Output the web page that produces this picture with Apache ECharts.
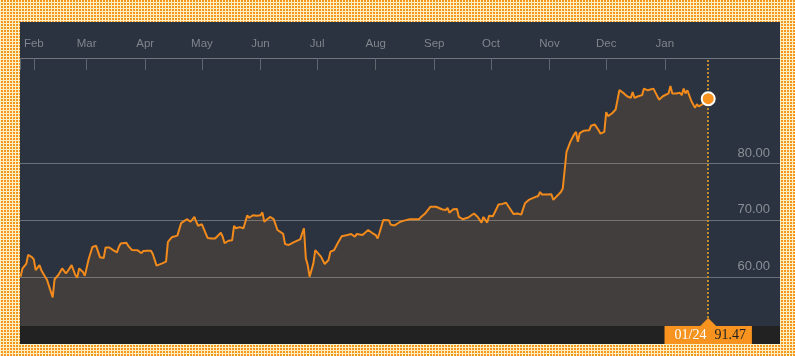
<!DOCTYPE html>
<html>
<head>
<meta charset="utf-8">
<script src="https://cdn.jsdelivr.net/npm/echarts@6/dist/echarts.min.js"></script>
<style>
  html, body { margin: 0; padding: 0; }
  body {
    width: 795px; height: 356px; overflow: hidden; position: relative;
    background-color: #f7961c;
    background-image:
      linear-gradient(90deg, #fff0c4 1px, transparent 1px),
      linear-gradient(0deg, #fff0c4 1px, transparent 1px);
    background-size: 3px 3px;
  }
  #panel { position: absolute; left: 20px; top: 22px; width: 760px; height: 322px; background: #2a333f; }
  #bar { position: absolute; left: 0; bottom: 0; width: 760px; height: 18px; background: #222222; }
  #chart { position: absolute; left: 0; top: 0; width: 760px; height: 322px; }
</style>
</head>
<body>
<div id="panel"><div id="bar"></div><div id="chart"></div></div>
<script>
// ---- data ----
const dates = [
'2017-01-25','2017-01-26','2017-01-28','2017-01-29','2017-01-31',
'2017-02-01','2017-02-02','2017-02-03','2017-02-04','2017-02-05','2017-02-07','2017-02-08','2017-02-09','2017-02-11','2017-02-12','2017-02-14','2017-02-16','2017-02-18','2017-02-19','2017-02-21','2017-02-23','2017-02-24','2017-02-25','2017-02-27','2017-02-28',
'2017-03-02','2017-03-04','2017-03-06','2017-03-07','2017-03-08','2017-03-10','2017-03-11','2017-03-13','2017-03-15','2017-03-17','2017-03-18','2017-03-19','2017-03-22','2017-03-23','2017-03-25','2017-03-28','2017-03-30','2017-03-31',
'2017-04-01','2017-04-02','2017-04-04','2017-04-05','2017-04-06','2017-04-07','2017-04-10','2017-04-12','2017-04-13','2017-04-15','2017-04-16','2017-04-18','2017-04-20','2017-04-21','2017-04-23','2017-04-25','2017-04-27','2017-04-28','2017-04-29',
'2017-05-01','2017-05-02','2017-05-04','2017-05-06','2017-05-08','2017-05-09','2017-05-11','2017-05-12','2017-05-13','2017-05-15','2017-05-17','2017-05-18','2017-05-19','2017-05-21','2017-05-23','2017-05-25','2017-05-26','2017-05-28','2017-05-30',
'2017-06-01','2017-06-02','2017-06-03','2017-06-06','2017-06-08','2017-06-10','2017-06-13','2017-06-14','2017-06-16','2017-06-19','2017-06-22','2017-06-23','2017-06-24','2017-06-25','2017-06-26','2017-06-27','2017-06-29','2017-06-30',
'2017-07-03','2017-07-05','2017-07-07','2017-07-08','2017-07-10','2017-07-12','2017-07-13','2017-07-14','2017-07-17','2017-07-19','2017-07-21','2017-07-22','2017-07-25','2017-07-28','2017-07-30',
'2017-08-01','2017-08-02','2017-08-03','2017-08-04','2017-08-05','2017-08-08','2017-08-09','2017-08-11','2017-08-12','2017-08-14','2017-08-16','2017-08-19','2017-08-24','2017-08-25','2017-08-27','2017-08-30','2017-08-31',
'2017-09-02','2017-09-05','2017-09-07','2017-09-08','2017-09-09','2017-09-11','2017-09-13','2017-09-14','2017-09-15','2017-09-16','2017-09-19','2017-09-22','2017-09-24','2017-09-26','2017-09-27','2017-09-29','2017-09-30',
'2017-10-02','2017-10-03','2017-10-05','2017-10-07','2017-10-09','2017-10-11','2017-10-13','2017-10-15','2017-10-17','2017-10-19','2017-10-21','2017-10-24','2017-10-26','2017-10-27','2017-10-28','2017-10-31',
'2017-11-02','2017-11-03','2017-11-04','2017-11-07','2017-11-08','2017-11-09','2017-11-10','2017-11-12','2017-11-14','2017-11-15','2017-11-16','2017-11-17','2017-11-19','2017-11-22','2017-11-23','2017-11-25','2017-11-27','2017-11-28','2017-11-30',
'2017-12-01','2017-12-02','2017-12-04','2017-12-06','2017-12-08','2017-12-09','2017-12-10','2017-12-12','2017-12-14','2017-12-15','2017-12-16','2017-12-18','2017-12-20','2017-12-21','2017-12-23','2017-12-26','2017-12-27','2017-12-29','2017-12-31',
'2018-01-03','2018-01-04','2018-01-05','2018-01-06','2018-01-07','2018-01-09','2018-01-10','2018-01-11','2018-01-12','2018-01-13','2018-01-15','2018-01-17','2018-01-18','2018-01-19','2018-01-21','2018-01-22','2018-01-24'
];
const prices = [
60.05,61.5,62.3,63.9,63.5,
63.1,61.2,61.2,62.1,61.2,60.05,59.5,59.35,56.4,59.6,60.35,61.5,60.65,61.05,62.1,60.35,59.9,61.5,60.9,60.2,
63.1,65.3,65.5,65.3,63.5,63.35,65.2,65.2,64.75,64.35,65.3,65.9,66.05,65.5,64.75,64.7,64.2,64.6,
64.35,64.65,64.65,64.05,63.9,62.0,62.4,62.7,66.2,67.0,66.8,67.3,69.5,69.5,70.2,69.75,70.6,69.75,69.05,
69.3,69.6,66.9,66.8,66.8,66.5,67.8,67.1,65.95,66.4,66.5,69.0,68.6,68.8,68.6,70.9,70.45,70.9,70.8,
70.9,71.4,69.75,70.6,70.2,68.3,67.6,65.8,65.65,66.2,66.65,66.5,68.6,63.3,62.1,60.05,62.4,64.75,
63.6,62.3,63.0,64.45,64.75,66.05,66.2,67.2,67.4,67.6,67.1,67.6,67.4,68.3,67.8,
67.4,66.8,67.8,68.0,70.05,70.0,69.2,69.1,69.45,69.75,69.95,70.2,70.2,70.6,71.15,72.4,72.7,
72.4,71.95,71.8,72.2,71.35,71.95,72.0,70.6,70.65,70.2,70.5,71.2,70.6,69.6,70.6,69.6,70.8,
70.7,70.9,72.8,72.9,73.1,72.1,71.1,71.2,71.0,73.0,73.6,74.05,74.3,75.0,74.55,74.55,
74.6,73.6,73.4,75.0,75.6,75.3,82.1,83.85,85.15,85.6,83.85,85.4,85.8,85.9,86.7,86.9,85.9,85.3,85.6,
89.1,88.4,88.85,89.55,93.0,93.1,92.5,91.9,91.6,92.65,91.6,91.9,92.1,93.25,92.95,93.25,93.45,91.3,91.9,
92.4,93.7,92.4,92.65,92.4,92.5,92.1,93.25,92.4,92.95,91.1,89.85,90.5,90.1,90.5,90.3,91.47
];
const monthTicks = ['2017-02-01','2017-03-01','2017-04-01','2017-05-01','2017-06-01','2017-07-01','2017-08-01','2017-09-01','2017-10-01','2017-11-01','2017-12-01','2018-01-01'];
const monthLabels = ['Feb','Mar','Apr','May','Jun','Jul','Aug','Sep','Oct','Nov','Dec','Jan'];
const yTicks = [60, 70, 80];

// ---- axis ranges ----
const xMinStr = '2017-01-24T16:48:00Z';
const xMaxStr = '2018-03-03T00:00:00Z';
const yMin = 51.35, yMax = 98.65;

const ts = s => Date.parse(s.length === 10 ? s + 'T00:00:00Z' : s);
const xMin = ts(xMinStr), xMax = ts(xMaxStr);
const seriesData = dates.map((d, i) => [ts(d), prices[i]]);
const lastDate = dates[dates.length - 1];
const lastVal = prices[prices.length - 1];
const tagDate = lastDate.slice(5, 7) + '/' + lastDate.slice(8, 10);
const monthTs = monthTicks.map(ts);
function monthName(v) {
  const i = monthTs.indexOf(Math.round(+v));
  return i >= 0 ? monthLabels[i] : '';
}

const chart = echarts.init(document.getElementById('chart'), null, { renderer: 'canvas' });
chart.setOption({
  animation: false,
  backgroundColor: 'transparent',
  grid: { left: 0, right: 0, top: 36, bottom: 18, containLabel: false },
  xAxis: {
    type: 'value',
    position: 'top',
    min: xMin,
    max: xMax,
    axisLine: { show: true, lineStyle: { color: '#72777d', width: 1 } },
    axisTick: { show: true, inside: true, length: 12, customValues: [xMin].concat(monthTs, [xMax]), lineStyle: { color: '#60666d', width: 1 } },
    axisLabel: { show: true, customValues: monthTs, formatter: monthName, color: '#80868d', fontSize: 11.5, fontFamily: 'Liberation Sans, Arial, sans-serif', margin: 8 },
    splitLine: { show: false }
  },
  yAxis: {
    type: 'value',
    position: 'right',
    min: yMin,
    max: yMax,
    axisLine: { show: false },
    axisTick: { show: false, customValues: yTicks },
    axisLabel: { show: true, customValues: yTicks, inside: true, margin: 10, formatter: v => Number(v).toFixed(2), color: '#8a9097', fontSize: 13, fontFamily: 'Liberation Sans, Arial, sans-serif', verticalAlign: 'bottom', padding: [0, 0, 4, 0] },
    splitLine: { show: true, lineStyle: { color: '#6a7077', width: 1 } }
  },
  series: [{
    type: 'line',
    data: seriesData,
    showSymbol: false,
    symbol: 'none',
    lineStyle: { color: '#f28a1c', width: 2 },
    areaStyle: { color: 'rgba(242,151,57,0.16)', origin: 'start' },
    z: 2,
    markLine: {
      silent: true,
      symbol: ['none', 'none'],
      label: { show: false },
      lineStyle: { color: '#c18a2c', type: [2, 2], width: 2 },
      data: [{ xAxis: ts(lastDate) }]
    },
    markPoint: {
      silent: true,
      data: [
        {
          coord: [ts(lastDate), lastVal],
          symbol: 'circle', symbolSize: 13,
          itemStyle: { color: '#f7931e', borderColor: '#ffffff', borderWidth: 2 },
          label: { show: false }
        },
        {
          coord: [ts(lastDate), yMin],
          symbol: 'triangle', symbolSize: [16, 8], symbolOffset: [0, -4],
          itemStyle: { color: '#f7931e' },
          label: {
            show: true, position: 'bottom', distance: 0,
            backgroundColor: '#f7931e',
            padding: [2, 6, 2, 10],
            lineHeight: 14,
            formatter: '{d|' + tagDate + '}{g|}{v|' + lastVal.toFixed(2) + '}',
            rich: {
              d: { color: '#ffffff', fontSize: 14, fontFamily: 'Liberation Serif, Times New Roman, serif', lineHeight: 14 },
              g: { width: 8, lineHeight: 14 },
              v: { color: '#1f1f1f', fontSize: 14, fontFamily: 'Liberation Serif, Times New Roman, serif', lineHeight: 14 }
            }
          }
        }
      ]
    }
  }]
});
</script>
</body>
</html>
